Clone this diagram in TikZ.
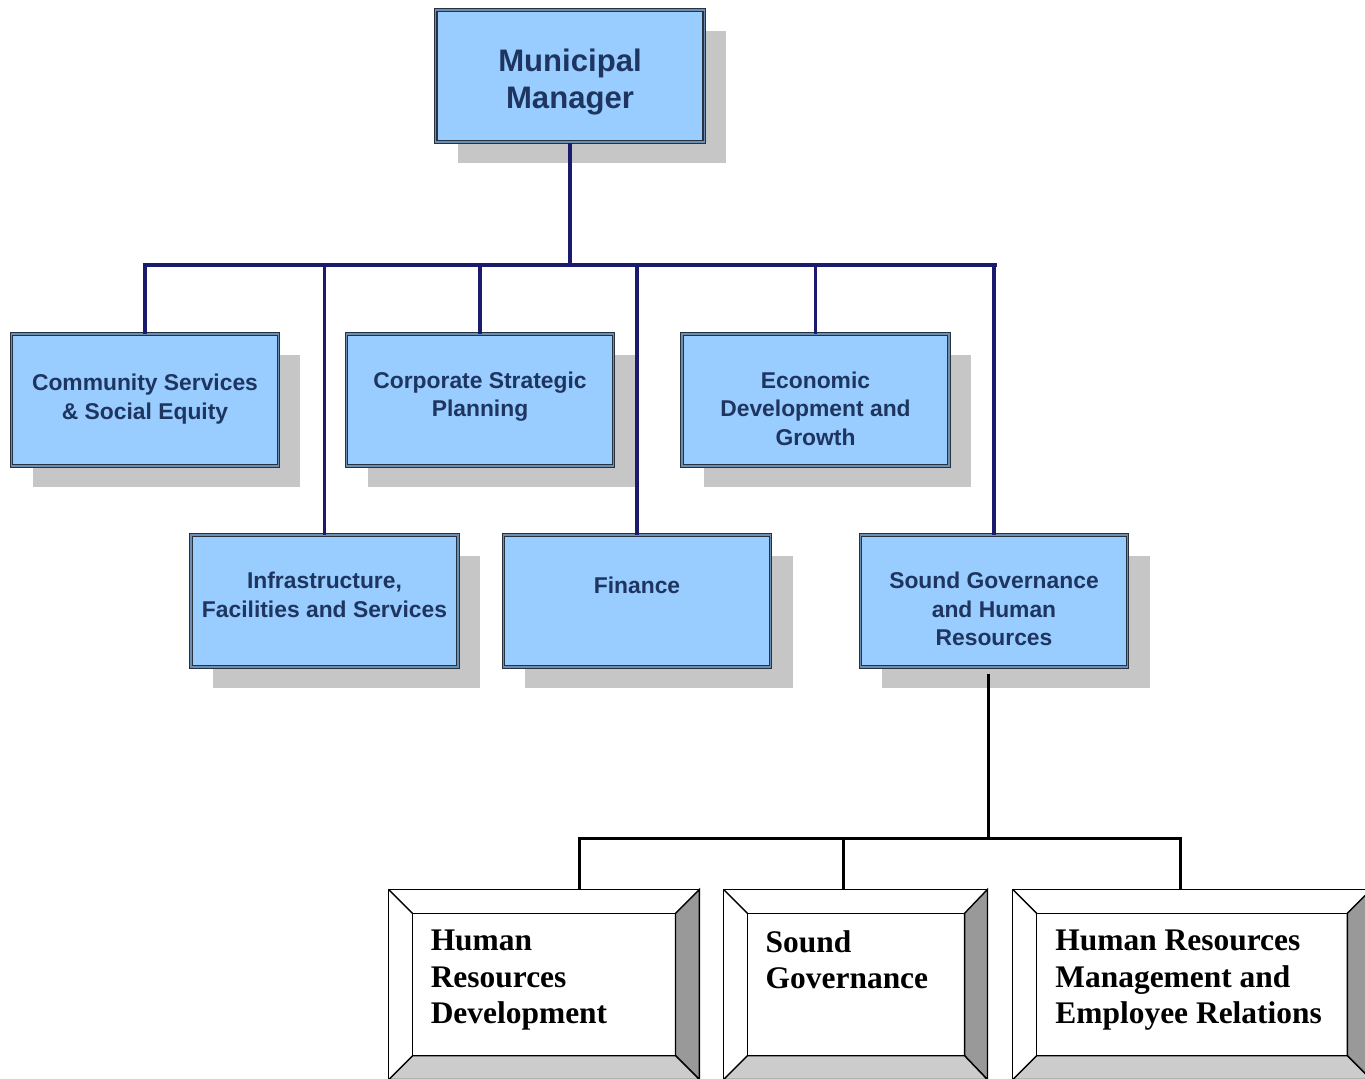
\documentclass[tikz,border=0pt]{standalone}
\usepackage{fontspec}
\setmainfont{Liberation Serif}
\newfontfamily\arialfont{Liberation Sans}
\usetikzlibrary{shadows}
\definecolor{boxblue}{HTML}{99CCFF}
\definecolor{linknavy}{HTML}{1A1A6E}
\definecolor{txtnavy}{HTML}{1E3560}
\definecolor{shadowgray}{HTML}{C6C6C6}
\definecolor{bordercol}{HTML}{26323E}
\definecolor{bevelright}{HTML}{999999}
\definecolor{bevelbottom}{HTML}{CCCCCC}
\begin{document}
\begin{tikzpicture}[x=0.02cm, y=-0.02cm,
  bluebox/.style={draw=bordercol, line width=0.7pt, double=bordercol!40!boxblue, double distance=0.8pt,
    fill=boxblue, minimum width=152pt, minimum height=75pt, inner sep=0pt,
    drop shadow={shadow xshift=12.5pt, shadow yshift=-12pt, fill=shadowgray, opacity=1}},
  bluetext/.style={font=\arialfont\bfseries\fontsize{13pt}{16.4pt}\selectfont, text=txtnavy, align=center, inner sep=0pt, anchor=north},
  navyline/.style={draw=linknavy, line width=2.2pt},
  blackline/.style={draw=black, line width=1.7pt},
  outerbevel/.style={draw=black, line width=0.8pt, inner sep=0pt, outer sep=0pt, minimum height=108.3pt},
  innerbevel/.style={draw=black, line width=0.8pt, fill=white, inner sep=0pt, outer sep=0pt, minimum height=81.1pt},
  seriftext/.style={font=\bfseries\fontsize{17.9pt}{20.7pt}\selectfont, align=left, inner sep=0pt, anchor=north west},
  bevelline/.style={draw=black, line width=0.8pt}
]
\useasboundingbox (0,0) rectangle (1365,1078);
\clip (0,0) rectangle (1365,1078);

% blue boxes
\node[bluebox, minimum width=153pt] (mm) at (570,76) {};
\node[bluetext, font=\arialfont\bfseries\fontsize{17.7pt}{21.5pt}\selectfont] (mmt) at ([yshift=-22pt]mm.north) {Municipal\\Manager};
\node[bluebox] (cs) at (145,400) {};
\node[bluetext] (cst) at ([yshift=-23pt]cs.north) {Community Services\\\& Social Equity};
\node[bluebox] (csp) at (480,400) {};
\node[bluetext] (cspt) at ([yshift=-21.5pt]csp.north) {Corporate Strategic\\Planning};
\node[bluebox] (ed) at (815.5,400) {};
\node[bluetext] (edt) at ([yshift=-21.5pt]ed.north) {Economic\\Development and\\Growth};
\node[bluebox] (ifs) at (324.5,601) {};
\node[bluetext] (ifst) at ([yshift=-21pt]ifs.north) {Infrastructure,\\Facilities and Services};
\node[bluebox] (fin) at (637,601) {};
\node[bluetext] (fint) at ([yshift=-24pt]fin.north) {Finance};
\node[bluebox] (sgh) at (994,601) {};
\node[bluetext] (sght) at ([yshift=-21pt]sgh.north) {Sound Governance\\and Human\\Resources};

% navy connectors
\coordinate (barL) at (145,265);
\coordinate (barR) at (995,265);
\draw[navyline] (mm.south) -- (mm.south |- barL);
\draw[navyline, line cap=rect] (barL) -- (barR);
\draw[navyline] (cs.north |- barL) -- (cs.north);
\draw[navyline] (ifs.north |- barL) -- (ifs.north);
\draw[navyline] (csp.north |- barL) -- (csp.north);
\draw[navyline] (fin.north |- barL) -- (fin.north);
\draw[navyline] (ed.north |- barL) -- (ed.north);
\draw[navyline] (sgh.north |- barL) -- (sgh.north);

% bevel boxes
\node[outerbevel, minimum width=176.9pt] (hrd-o) at (544,984.5) {};
\node[innerbevel, minimum width=149.7pt] (hrd-i) at (544,984.5) {};
\node[outerbevel, minimum width=150.2pt] (sg-o) at (855.5,984.5) {};
\node[innerbevel, minimum width=123.6pt] (sg-i) at (856,984.5) {};
\node[outerbevel, minimum width=204.1pt] (hrm-o) at (1192,984.5) {};
\node[innerbevel, minimum width=176.9pt] (hrm-i) at (1192,984.5) {};
\foreach \n in {hrd,sg,hrm}{
  \filldraw[bevelline, fill=bevelright] (\n-o.north east) -- (\n-o.south east) -- (\n-i.south east) -- (\n-i.north east) -- cycle;
  \filldraw[bevelline, fill=bevelbottom] (\n-o.south west) -- (\n-o.south east) -- (\n-i.south east) -- (\n-i.south west) -- cycle;
  \draw[bevelline] (\n-o.north west) -- (\n-i.north west);
  \draw[bevelline] (\n-o.north west) rectangle (\n-o.south east);
  \draw[bevelline] (\n-i.north west) rectangle (\n-i.south east);
}
\node[seriftext] (hrdt) at ([xshift=10.2pt, yshift=-9.5pt]hrd-i.north west) {Human\\Resources\\Development};
\node[seriftext] (sgt) at ([xshift=10.2pt, yshift=-9.5pt]sg-i.north west) {Sound\\Governance};
\node[seriftext] (hrmt) at ([xshift=10.5pt, yshift=-9.5pt]hrm-i.north west) {Human Resources\\Management and\\Employee Relations};

% black connectors
\coordinate (hub) at (988,838);
\coordinate (d1) at (579,838);
\coordinate (d2) at (843,838);
\coordinate (d3) at (1180,838);
\draw[blackline] ([yshift=-3.5pt]hub |- sgh.south) -- (hub);
\draw[blackline, line cap=rect] (d1) -- (d3);
\draw[blackline] (d1) -- (d1 |- hrd-o.north);
\draw[blackline] (d2) -- (d2 |- sg-o.north);
\draw[blackline] (d3) -- (d3 |- hrm-o.north);
\end{tikzpicture}
\end{document}
